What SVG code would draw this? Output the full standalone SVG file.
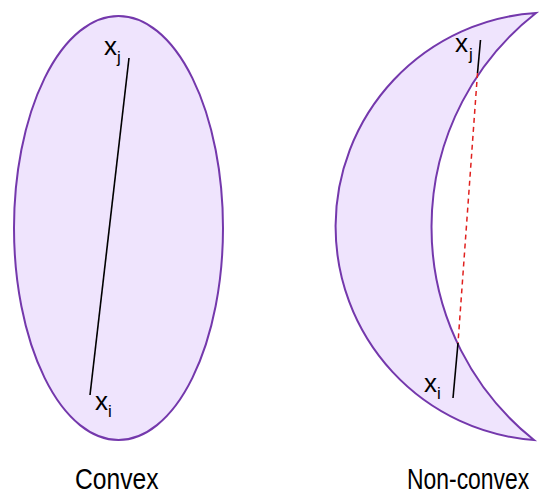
<svg xmlns="http://www.w3.org/2000/svg" width="546" height="495" viewBox="0 0 546 495">
<style>
.shape{fill:#EFE4FD;stroke:#7438AC;stroke-width:2}
.seg{stroke:#000;stroke-width:1.6;fill:none}
.dash{stroke:#E0201E;stroke-width:1.5;stroke-dasharray:5,4;fill:none}
.lbl{font-family:"Liberation Sans",Arial,sans-serif;fill:#000}
.var{font-size:26px}
.sub{font-size:17px}
.cap{font-size:29px}
</style>
<rect width="546" height="495" fill="#fff"/>
<g id="convex">
<ellipse class="shape" cx="118.5" cy="228" rx="104.5" ry="212"/>
</g>
<g id="nonconvex">
<path class="shape" d="M536,13 A214,214 0 0 0 534,440 A272,272 0 0 1 536,13 Z"/>
</g>
<g id="connectors">
<line class="seg" x1="129" y1="58" x2="90" y2="395"/>
<line class="seg" x1="480.5" y1="40" x2="477.5" y2="73"/>
<line class="dash" x1="477.5" y1="73" x2="458" y2="343"/>
<line class="seg" x1="458" y1="343" x2="453" y2="398"/>
</g>
<g id="labels">
<text class="lbl var" x="104" y="55">x</text><text class="lbl sub" x="117" y="63">j</text>
<text class="lbl var" x="95" y="410">x</text><text class="lbl sub" x="108" y="417">i</text>
<text class="lbl var" x="455" y="52">x</text><text class="lbl sub" x="469" y="60">j</text>
<text class="lbl var" x="424" y="392">x</text><text class="lbl sub" x="437" y="399">i</text>
<text class="lbl cap" transform="translate(75,489) scale(0.85,1)">Convex</text>
<text class="lbl cap" transform="translate(407,489) scale(0.79,1)">Non-convex</text>
</g>
</svg>
